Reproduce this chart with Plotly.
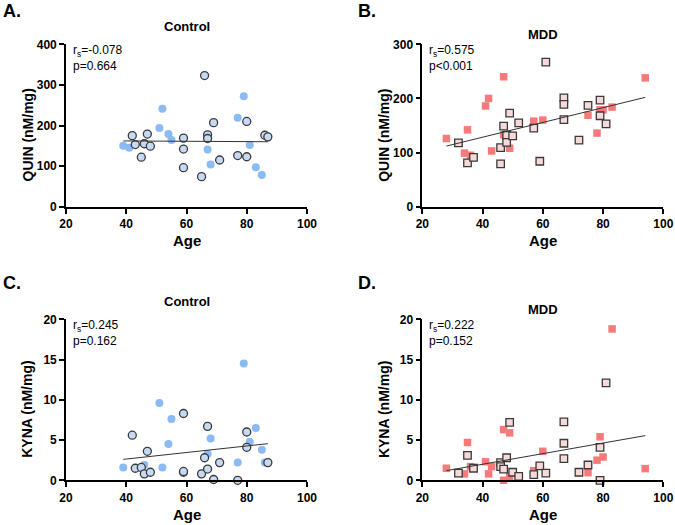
import plotly.graph_objects as go

W, H = 675, 525

# ---- data ----
# A. Control, QUIN
ctrl_quin_f_age = [39, 41, 51, 52, 54, 55, 67, 68, 77, 79, 81, 83, 85]
ctrl_quin_f_val = [150, 145, 194, 241, 179, 164, 141, 104, 219, 272, 152, 97, 78]
ctrl_quin_m_age = [42, 43, 45, 46, 47, 48, 59, 59, 59, 65, 66, 67, 67, 69, 71, 77, 80, 80, 86, 87]
ctrl_quin_m_val = [175, 153, 122, 155, 179, 149, 169, 142, 96, 74, 323, 177, 168, 207, 115, 126, 210, 123, 176, 172]
ctrl_quin_fit_x = [39, 87]
ctrl_quin_fit_y = [162, 160]

# B. MDD, QUIN
mdd_quin_f_age = [28, 35, 34, 36, 41, 42, 43, 47, 47, 49, 57, 60, 75, 78, 79, 80, 83, 94]
mdd_quin_f_val = [126, 142, 99, 95, 186, 200, 103, 240, 133, 108, 158, 160, 169, 136, 179, 179, 184, 238]
mdd_quin_m_age = [32, 35, 37, 46, 46, 47, 48, 48, 49, 50, 52, 57, 59, 61, 67, 67, 67, 72, 75, 79, 79, 81]
mdd_quin_m_val = [118, 81, 91, 109, 79, 149, 132, 119, 173, 131, 155, 145, 84, 267, 201, 189, 161, 123, 187, 197, 168, 153]
mdd_quin_fit_x = [28, 94]
mdd_quin_fit_y = [112, 202]

# C. Control, KYNA
ctrl_kyna_f_age = [39, 51, 52, 54, 55, 46, 67, 68, 77, 79, 81, 83, 85, 86]
ctrl_kyna_f_val = [1.6, 9.6, 1.6, 4.5, 7.6, 1.9, 3.3, 5.2, 2.2, 14.5, 4.8, 6.5, 3.8, 2.2]
ctrl_kyna_m_age = [42, 43, 45, 46, 47, 48, 59, 59, 59, 65, 66, 67, 67, 69, 71, 77, 80, 80, 87]
ctrl_kyna_m_val = [5.6, 1.5, 1.6, 0.8, 3.6, 1.0, 8.3, 1.0, 1.1, 0.8, 2.8, 6.7, 1.4, 0.1, 2.2, 0.0, 6.0, 4.1, 2.2]
ctrl_kyna_fit_x = [39, 87]
ctrl_kyna_fit_y = [2.6, 4.55]

# D. MDD, KYNA
mdd_kyna_f_age = [28, 34, 35, 36, 41, 42, 43, 47, 47, 49, 49, 57, 60, 75, 78, 79, 80, 83, 94]
mdd_kyna_f_val = [1.5, 0.8, 4.7, 1.7, 2.3, 0.8, 1.7, 6.3, 0.0, 5.9, 0.5, 1.2, 3.6, 0.95, 2.5, 5.4, 2.9, 18.8, 1.45]
mdd_kyna_m_age = [32, 35, 37, 46, 46, 47, 48, 49, 50, 52, 57, 59, 61, 67, 67, 67, 72, 75, 79, 79, 81]
mdd_kyna_m_val = [0.9, 3.1, 1.5, 2.2, 1.7, 1.4, 2.8, 7.2, 1.0, 0.5, 0.7, 1.8, 0.9, 7.25, 4.6, 2.7, 1.0, 1.9, 4.1, 0.0, 12.1]
mdd_kyna_fit_x = [28, 94]
mdd_kyna_fit_y = [1.2, 5.55]

BLUE = "#8cbaf2"
BLUE_LIGHT = "#c6dbf3"
RED = "#f77a7a"
RED_LIGHT = "#f8d9d9"
EDGE = "#3a3a3a"
FONT = "Arial, Liberation Sans, sans-serif"

panels = [
    # px box is (x0, x1, ytop, ybottom) of the plot area
    dict(letter="A.", box=(66, 307, 44.3, 206.7), yr=400, dt=100, ylab="QUIN (nM/mg)", title="Control",
         stat="r<sub>s</sub>=-0.078<br>p=0.664", symbol="circle", fill=BLUE, light=BLUE_LIGHT,
         f=(ctrl_quin_f_age, ctrl_quin_f_val), m=(ctrl_quin_m_age, ctrl_quin_m_val),
         fit=(ctrl_quin_fit_x, ctrl_quin_fit_y), title_y=26, letter_x=1, letter_y=11),
    dict(letter="B.", box=(422.3, 663.3, 44.3, 206.7), yr=300, dt=100, ylab="QUIN (nM/mg)", title="MDD",
         stat="r<sub>s</sub>=0.575<br>p<0.001", symbol="square", fill=RED, light=RED_LIGHT,
         f=(mdd_quin_f_age, mdd_quin_f_val), m=(mdd_quin_m_age, mdd_quin_m_val),
         fit=(mdd_quin_fit_x, mdd_quin_fit_y), title_y=34, letter_x=356, letter_y=11),
    dict(letter="C.", box=(66, 307, 319.3, 480.3), yr=20, dt=5, ylab="KYNA (nM/mg)", title="Control",
         stat="r<sub>s</sub>=0.245<br>p=0.162", symbol="circle", fill=BLUE, light=BLUE_LIGHT,
         f=(ctrl_kyna_f_age, ctrl_kyna_f_val), m=(ctrl_kyna_m_age, ctrl_kyna_m_val),
         fit=(ctrl_kyna_fit_x, ctrl_kyna_fit_y), title_y=301, letter_x=1, letter_y=283),
    dict(letter="D.", box=(422.3, 663.3, 319.3, 480.3), yr=20, dt=5, ylab="KYNA (nM/mg)", title="MDD",
         stat="r<sub>s</sub>=0.222<br>p=0.152", symbol="square", fill=RED, light=RED_LIGHT,
         f=(mdd_kyna_f_age, mdd_kyna_f_val), m=(mdd_kyna_m_age, mdd_kyna_m_val),
         fit=(mdd_kyna_fit_x, mdd_kyna_fit_y), title_y=309, letter_x=356, letter_y=283),
]


def px(x):
    return x / W


def py(y):
    return 1 - y / H


fig = go.Figure()
layout = {}
annotations = []

for i, p in enumerate(panels, start=1):
    sfx = "" if i == 1 else str(i)
    xa, ya = "x" + sfx, "y" + sfx
    x0, x1, yt, yb = p["box"]
    size = 8 if p["symbol"] == "circle" else 7.5

    fig.add_trace(go.Scatter(
        x=p["f"][0], y=p["f"][1], mode="markers", xaxis=xa, yaxis=ya, cliponaxis=False,
        marker=dict(symbol=p["symbol"], size=size, color=p["fill"], line=dict(width=0)),
    ))
    fig.add_trace(go.Scatter(
        x=p["m"][0], y=p["m"][1], mode="markers", xaxis=xa, yaxis=ya, cliponaxis=False,
        marker=dict(symbol=p["symbol"], size=size, color=p["light"], line=dict(width=1.3, color=EDGE)),
    ))
    fig.add_trace(go.Scatter(
        x=p["fit"][0], y=p["fit"][1], mode="lines", xaxis=xa, yaxis=ya,
        line=dict(color="#333333", width=1),
    ))

    axis_common = dict(
        showgrid=False, zeroline=False, showline=True, linecolor="black", linewidth=1.6,
        ticks="outside", ticklen=5, tickwidth=1.6, tickcolor="black", automargin=False,
        tickfont=dict(family=FONT, size=12, color="black", weight="bold"),
    )
    layout["xaxis" + sfx] = dict(
        axis_common, domain=[px(x0), px(x1)], range=[20, 100], tickvals=[20, 40, 60, 80, 100],
        anchor=ya,
    )
    layout["yaxis" + sfx] = dict(
        axis_common, domain=[py(yb), py(yt)], range=[0, p["yr"]],
        tickvals=list(range(0, p["yr"] + 1, p["dt"])), anchor=xa,
    )

    cx = (x0 + x1) / 2
    annotations += [
        dict(text=p["letter"], x=px(p["letter_x"]), y=py(p["letter_y"]), xanchor="left", yanchor="middle",
             font=dict(family=FONT, size=18, color="black", weight="bold")),
        dict(text=p["title"], x=px(cx), y=py(p["title_y"]), xanchor="center", yanchor="middle",
             font=dict(family=FONT, size=13, color="black", weight="bold")),
        dict(text="Age", x=px(cx), y=py(yb + 34), xanchor="center", yanchor="middle",
             font=dict(family=FONT, size=15, color="black", weight="bold")),
        dict(text=p["ylab"], x=px(x0 - 39), y=py((yt + yb) / 2 + 10), xanchor="center", yanchor="middle",
             textangle=-90, font=dict(family=FONT, size=14, color="black", weight="bold")),
        dict(text=p["stat"], x=px(x0 + 5), y=py(yt - 3), xanchor="left", yanchor="top", align="left",
             font=dict(family=FONT, size=12, color="black")),
    ]

for a in annotations:
    a.update(xref="paper", yref="paper", showarrow=False)

fig.update_layout(
    width=W, height=H, margin=dict(l=0, r=0, t=0, b=0, autoexpand=False),
    paper_bgcolor="white", plot_bgcolor="white", showlegend=False,
    annotations=annotations, **layout,
)

# drop the page's default body margin so the figure sits at the window corner
fig.write_html(
    "out.html",
    config={"displayModeBar": False},
    post_script="document.body.style.margin = '0';",
)
